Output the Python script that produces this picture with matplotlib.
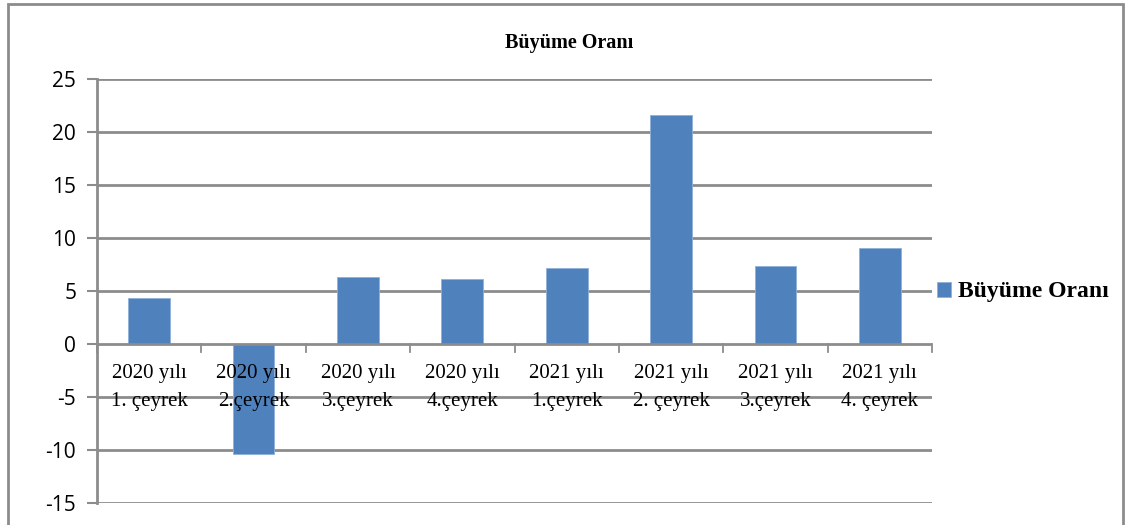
import matplotlib.pyplot as plt
from matplotlib.patches import Rectangle

categories = ["2020 yılı\n1. çeyrek", "2020 yılı\n2.çeyrek", "2020 yılı\n3.çeyrek",
              "2020 yılı\n4.çeyrek", "2021 yılı\n1.çeyrek", "2021 yılı\n2. çeyrek",
              "2021 yılı\n3.çeyrek", "2021 yılı\n4. çeyrek"]
values = [4.35, -10.4, 6.3, 6.15, 7.2, 21.65, 7.4, 9.1]
yticks = [-15, -10, -5, 0, 5, 10, 15, 20, 25]
series_name = "Büyüme Oranı"

W, H = 1132, 525
fig = plt.figure(figsize=(W / 100, H / 100), dpi=100)

# outer chart frame
fig.add_artist(Rectangle((8 / W, -0.05), (1123 - 8) / W, 1.05 - 4 / H,
                         transform=fig.transFigure, fill=False,
                         edgecolor='#8c8c8c', linewidth=2))

ax = fig.add_axes([97 / W, 1 - 503 / H, (932 - 97) / W, (503 - 79) / H])
ax.set_facecolor('none')

grid_col = '#8c8c8c'
for y in yticks:
    if y != 0:
        ax.axhline(y, color=grid_col, linewidth=2, zorder=1)

bars = ax.bar(range(len(values)), values, width=0.4, color='#4f81bd',
              edgecolor='#8fb0d9', linewidth=0.6, zorder=2, label=series_name)

# category axis at zero
ax.axhline(0, color=grid_col, linewidth=2, zorder=3)
for b in range(len(values) + 1):
    ax.plot([b - 0.5, b - 0.5], [0, -0.75], color=grid_col, linewidth=1.3,
            zorder=3, clip_on=False)

for i, lab in enumerate(categories):
    ax.text(i, -4.1, lab, ha='center', va='center', fontsize=15,
            family='Liberation Serif', linespacing=1.65, zorder=4)

ax.set_xlim(-0.5, len(values) - 0.5)
ax.set_ylim(-15, 25)
ax.set_yticks(yticks)
ax.set_yticklabels([str(t) for t in yticks], family='Open Sans', fontsize=15)
ax.tick_params(axis='y', length=7, width=1.5, color=grid_col, pad=8)
ax.set_xticks([])
for s in ['top', 'right', 'bottom']:
    ax.spines[s].set_visible(False)
ax.spines['left'].set_color(grid_col)
ax.spines['left'].set_linewidth(2)

fig.text(569 / W, 1 - 43 / H, "Büyüme Oranı", ha='center', va='center',
         fontsize=14.5, fontweight='bold', family='Liberation Serif')

fig.legend(handles=[bars], labels=[series_name], loc='center left',
           bbox_to_anchor=(916 / W, 1 - 292 / H), frameon=False,
           prop={'family': 'Liberation Serif', 'weight': 'bold', 'size': 17},
           handlelength=0.6, handleheight=0.6, handletextpad=0.3)

fig.savefig("out.png", dpi=100)
